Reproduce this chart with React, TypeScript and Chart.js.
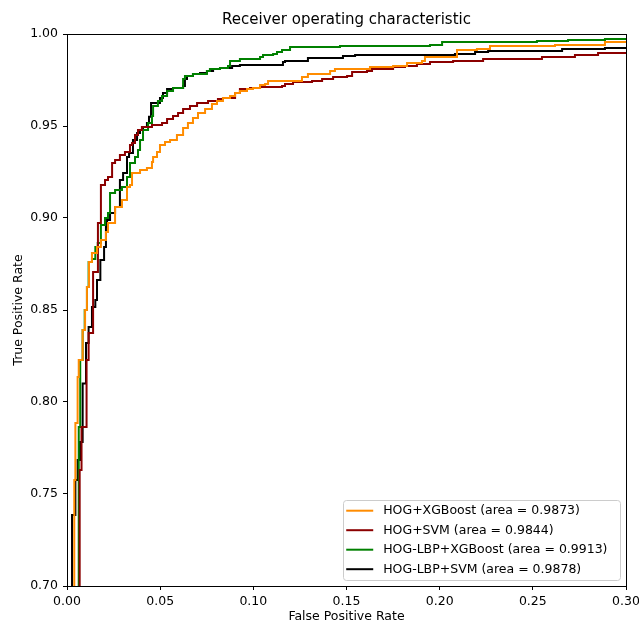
import { useEffect, useRef } from 'react';
import { Chart, registerables } from 'chart.js';

Chart.register(...registerables);

const chartTitle = 'Receiver operating characteristic';
const xAxisLabel = 'False Positive Rate';
const yAxisLabel = 'True Positive Rate';
const xTickValues = [0, 0.05, 0.1, 0.15, 0.2, 0.25, 0.3];
const yTickValues = [0.7, 0.75, 0.8, 0.85, 0.9, 0.95, 1.0];

const seriesLabels = [
  'HOG+XGBoost (area = 0.9873)',
  'HOG+SVM (area = 0.9844)',
  'HOG-LBP+XGBoost (area = 0.9913)',
  'HOG-LBP+SVM (area = 0.9878)',
];
const seriesColors = ['#ff8c00', '#8b0000', '#008000', '#000000'];

// [false positive rate, true positive rate]
const hogXgbRoc: [number, number][] = [
  [0, 0.6], [0.0039, 0.7576], [0.0045, 0.7886], [0.0057, 0.8136], [0.0063, 0.8228],
  [0.0084, 0.8391], [0.0097, 0.85], [0.0107, 0.8625], [0.0118, 0.8761], [0.0134, 0.881],
  [0.0161, 0.8842], [0.0182, 0.888], [0.0209, 0.8924], [0.022, 0.8973], [0.0258, 0.906],
  [0.0295, 0.9098], [0.0322, 0.9168], [0.0338, 0.918], [0.0349, 0.9245], [0.0392, 0.9261],
  [0.0429, 0.9272], [0.0456, 0.9304], [0.0462, 0.9332], [0.0483, 0.9359], [0.0499, 0.9397],
  [0.0526, 0.9413], [0.0553, 0.9424], [0.059, 0.9451], [0.0623, 0.9489], [0.0649, 0.9516],
  [0.0676, 0.9543], [0.0703, 0.9571], [0.0741, 0.9592], [0.0778, 0.962], [0.0805, 0.9636],
  [0.0837, 0.9652], [0.0875, 0.9663], [0.0902, 0.9679], [0.0928, 0.969], [0.0966, 0.9701],
  [0.0998, 0.9707], [0.1036, 0.9723], [0.1063, 0.9728], [0.1079, 0.9745], [0.1261, 0.9766],
  [0.1293, 0.9783], [0.1412, 0.9799], [0.1438, 0.981], [0.1626, 0.9821], [0.175, 0.9826],
  [0.1825, 0.9842], [0.1905, 0.9853], [0.1921, 0.9875], [0.2093, 0.9913], [0.22, 0.9918],
  [0.227, 0.9935], [0.2619, 0.994], [0.2887, 0.9957], [0.3, 0.9957],
];

const hogSvmRoc: [number, number][] = [
  [0, 0.6], [0.0068, 0.763], [0.0078, 0.7864], [0.0105, 0.8228], [0.0116, 0.8375],
  [0.014, 0.8707], [0.0166, 0.8973], [0.0182, 0.9179], [0.0204, 0.9207], [0.022, 0.9223],
  [0.0242, 0.9299], [0.0258, 0.9315], [0.0284, 0.9342], [0.0311, 0.9359], [0.0338, 0.9397],
  [0.0349, 0.9408], [0.0365, 0.9451], [0.0381, 0.9478], [0.0402, 0.9495], [0.0456, 0.9505],
  [0.051, 0.9516], [0.0537, 0.9538], [0.0569, 0.9554], [0.0596, 0.9571], [0.0623, 0.9592],
  [0.066, 0.9609], [0.0698, 0.9625], [0.0757, 0.9636], [0.081, 0.9647], [0.0837, 0.9652],
  [0.0902, 0.9679], [0.0928, 0.9701], [0.0982, 0.9707], [0.1036, 0.9712], [0.1154, 0.9717],
  [0.117, 0.9728], [0.1213, 0.9739], [0.1315, 0.9745], [0.1369, 0.9755], [0.1428, 0.9766],
  [0.1503, 0.9772], [0.153, 0.9793], [0.161, 0.9799], [0.1637, 0.981], [0.175, 0.9821],
  [0.1814, 0.9826], [0.1878, 0.9837], [0.1948, 0.9848], [0.2072, 0.9853], [0.2233, 0.9864],
  [0.2549, 0.9875], [0.2726, 0.9886], [0.285, 0.9897], [0.3, 0.9897],
];

const hogLbpXgbRoc: [number, number][] = [
  [0, 0.6], [0.0063, 0.7864], [0.0071, 0.8228], [0.0084, 0.8391], [0.0095, 0.85],
  [0.0107, 0.8625], [0.0116, 0.8761], [0.0134, 0.8777], [0.0152, 0.8842], [0.0165, 0.8864],
  [0.0182, 0.8962], [0.0204, 0.9], [0.022, 0.9027], [0.0231, 0.9136], [0.0258, 0.9152],
  [0.0295, 0.9168], [0.0322, 0.9223], [0.0338, 0.9299], [0.0365, 0.9332], [0.0381, 0.937],
  [0.0392, 0.9424], [0.0408, 0.9478], [0.0435, 0.9516], [0.0456, 0.9554], [0.0462, 0.9609],
  [0.0488, 0.9636], [0.051, 0.9663], [0.0537, 0.969], [0.0569, 0.9707], [0.0623, 0.9755],
  [0.0633, 0.9772], [0.0676, 0.9783], [0.0751, 0.9799], [0.0767, 0.981], [0.0821, 0.9815],
  [0.0864, 0.9826], [0.0875, 0.9853], [0.0928, 0.9864], [0.1036, 0.9875], [0.1052, 0.9886],
  [0.1106, 0.9891], [0.1127, 0.9902], [0.1154, 0.9913], [0.1197, 0.9929], [0.1465, 0.9935],
  [0.1948, 0.994], [0.2013, 0.9957], [0.2522, 0.9962], [0.2689, 0.9967], [0.2887, 0.9973],
  [0.3, 0.9973],
];

const hogLbpSvmRoc: [number, number][] = [
  [0, 0.6], [0.0027, 0.7386], [0.0045, 0.7576], [0.0057, 0.7685], [0.007, 0.7783],
  [0.0084, 0.81], [0.0102, 0.8321], [0.0116, 0.8408], [0.0134, 0.8516], [0.0152, 0.8554],
  [0.0161, 0.8663], [0.0179, 0.8772], [0.0199, 0.8842], [0.0209, 0.8951], [0.0215, 0.8989],
  [0.0231, 0.9027], [0.0258, 0.906], [0.0284, 0.9207], [0.0301, 0.9245], [0.0322, 0.9332],
  [0.0333, 0.9353], [0.0354, 0.9424], [0.0376, 0.9462], [0.0392, 0.9478], [0.0408, 0.9495],
  [0.0429, 0.9516], [0.044, 0.955], [0.0451, 0.9625], [0.0499, 0.9652], [0.0515, 0.9679],
  [0.0537, 0.9701], [0.0569, 0.9707], [0.0623, 0.9717], [0.0633, 0.9755], [0.0644, 0.9772],
  [0.0676, 0.9783], [0.0714, 0.9788], [0.0751, 0.9799], [0.0784, 0.981], [0.0821, 0.9815],
  [0.0886, 0.9826], [0.0928, 0.9832], [0.1159, 0.9848], [0.117, 0.9853], [0.1293, 0.987],
  [0.1481, 0.988], [0.1546, 0.9886], [0.2082, 0.9891], [0.219, 0.9902], [0.226, 0.9908],
  [0.2657, 0.9918], [0.2887, 0.9924], [0.3, 0.9924],
];

const seriesData = [hogXgbRoc, hogSvmRoc, hogLbpXgbRoc, hogLbpSvmRoc];

const FONT = "'DejaVu Sans', sans-serif";
const FONT_SIZE = 12.5;

const framePlugin = {
  id: 'mplFrameLegend',
  afterDraw(chart: any) {
    const { ctx, chartArea } = chart;
    ctx.save();
    // axes frame
    ctx.strokeStyle = '#000';
    ctx.lineWidth = 1;
    ctx.strokeRect(
      Math.round(chartArea.left) + 0.5,
      Math.round(chartArea.top) + 0.5,
      Math.round(chartArea.right - chartArea.left),
      Math.round(chartArea.bottom - chartArea.top)
    );
    // legend (lower right, inside axes)
    ctx.font = `${FONT_SIZE}px ${FONT}`;
    const datasets = chart.data.datasets;
    let maxW = 0;
    datasets.forEach((d: any) => {
      maxW = Math.max(maxW, ctx.measureText(d.label).width);
    });
    const rowH = 19.5;
    const boxW = 40 + maxW + 13;
    const boxH = 21.5 + rowH * (datasets.length - 1);
    const boxRight = chartArea.right - 6;
    const boxBottom = chartArea.bottom - 6;
    const bx = boxRight - boxW;
    const by = boxBottom - boxH;
    ctx.beginPath();
    (ctx as any).roundRect(Math.round(bx) + 0.5, Math.round(by) + 0.5, Math.round(boxW), Math.round(boxH), 3);
    ctx.fillStyle = 'rgba(255,255,255,0.8)';
    ctx.fill();
    ctx.strokeStyle = '#cccccc';
    ctx.lineWidth = 1;
    ctx.stroke();
    datasets.forEach((d: any, i: number) => {
      const cy = by + 10.7 + i * rowH;
      ctx.beginPath();
      ctx.strokeStyle = d.borderColor;
      ctx.lineWidth = 2;
      ctx.moveTo(bx + 3.5, cy);
      ctx.lineTo(bx + 30.5, cy);
      ctx.stroke();
      ctx.fillStyle = '#000';
      ctx.textBaseline = 'middle';
      ctx.textAlign = 'left';
      ctx.fillText(d.label, bx + 40.5, cy + 0.5);
    });
    ctx.restore();
  },
};

export default function App() {
  const canvasRef = useRef<HTMLCanvasElement | null>(null);

  useEffect(() => {
    const canvas = canvasRef.current;
    if (!canvas) return;
    const chart = new Chart(canvas, {
      type: 'line',
      data: {
        datasets: seriesData.map((pts, i) => ({
          label: seriesLabels[i],
          data: pts.map(([x, y]) => ({ x, y })),
          borderColor: seriesColors[i],
          backgroundColor: seriesColors[i],
          borderWidth: 2,
          pointRadius: 0,
          pointHoverRadius: 0,
          stepped: 'before' as const,
          fill: false,
          tension: 0,
        })),
      },
      options: {
        responsive: false,
        animation: false,
        events: [],
        layout: { padding: { top: 0, left: 0, right: 13, bottom: 0 } },
        plugins: {
          legend: { display: false },
          tooltip: { enabled: false },
          title: {
            display: true,
            fullSize: false,
            text: chartTitle,
            color: '#000',
            font: { family: FONT, size: 15, weight: 'normal' as const },
            padding: { top: 11, bottom: 5 },
          },
        },
        scales: {
          x: {
            type: 'linear',
            min: 0,
            max: 0.3,
            afterBuildTicks: (scale: any) => {
              scale.ticks = xTickValues.map((v) => ({ value: v }));
            },
            afterFit: (scale: any) => {
              scale.height = 37;
              scale.paddingLeft = 0;
              scale.paddingRight = 0;
            },
            ticks: {
              autoSkip: false,
              maxRotation: 0,
              color: '#000',
              padding: 4,
              font: { family: FONT, size: FONT_SIZE },
              callback: (v: any) => Number(v).toFixed(2),
            },
            grid: {
              display: true,
              drawOnChartArea: false,
              drawTicks: true,
              tickLength: 4,
              tickColor: '#000',
              lineWidth: 1,
            },
            border: { display: true, color: '#000', width: 1 },
            title: {
              display: true,
              text: xAxisLabel,
              color: '#000',
              font: { family: FONT, size: FONT_SIZE },
              padding: { top: 0, bottom: -1.5 },
            },
          },
          y: {
            type: 'linear',
            min: 0.7,
            max: 1.0,
            afterBuildTicks: (scale: any) => {
              scale.ticks = yTickValues.map((v) => ({ value: v }));
            },
            afterFit: (scale: any) => {
              scale.width = 67;
              scale.paddingTop = 0;
              scale.paddingBottom = 0;
            },
            ticks: {
              autoSkip: false,
              color: '#000',
              padding: 5,
              font: { family: FONT, size: FONT_SIZE },
              callback: (v: any) => Number(v).toFixed(2),
            },
            grid: {
              display: true,
              drawOnChartArea: false,
              drawTicks: true,
              tickLength: 4,
              tickColor: '#000',
              lineWidth: 1,
            },
            border: { display: true, color: '#000', width: 1 },
            title: {
              display: true,
              text: yAxisLabel,
              color: '#000',
              font: { family: FONT, size: FONT_SIZE },
              padding: { top: 11, bottom: 0 },
            },
          },
        },
      },
      plugins: [framePlugin],
    });
    return () => chart.destroy();
  }, []);

  return (
    <div style={{ position: 'fixed', left: 0, top: 0, width: 639, height: 623, background: '#fff' }}>
      <canvas ref={canvasRef} width={639} height={623} style={{ display: 'block', width: 639, height: 623 }} />
    </div>
  );
}
